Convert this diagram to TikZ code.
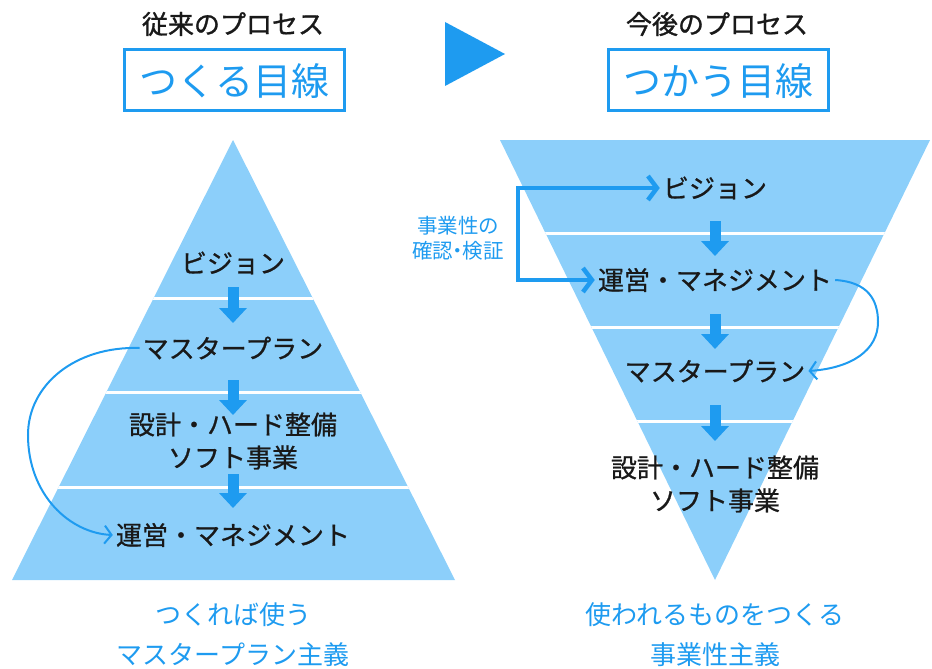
\documentclass[tikz,border=0pt]{standalone}
\usepackage{fontspec}
\setmainfont{Noto Sans CJK JP}
\usetikzlibrary{arrows.meta}
\definecolor{tri}{RGB}{140,207,250}
\definecolor{acc}{RGB}{30,155,240}
\definecolor{ink}{RGB}{25,25,25}
\begin{document}
\begin{tikzpicture}[x=1pt,y=-1pt,
  lbl/.style={font=\fontsize{26}{33}\selectfont\addfontfeatures{FakeBold=0.8}, text=ink, inner sep=3pt, align=center},
  ttl/.style={font=\fontsize{26}{28}\selectfont\addfontfeatures{FakeBold=1.2}, text=ink, inner sep=0pt},
  boxtxt/.style={font=\fontsize{38}{40}\selectfont, text=acc, inner sep=0pt},
  bottxt/.style={font=\fontsize{26}{40}\selectfont, text=acc, align=center, inner sep=0pt},
  side/.style={font=\fontsize{20.5}{25}\selectfont, text=acc, align=center, inner sep=0pt},
  blk/.style={acc, line width=11pt, -{Triangle[length=15pt,width=27pt]}},
  thin/.style={acc, line width=2pt, -{Straight Barb[length=7pt,width=18pt]}},
  elbow/.style={acc, line width=4.5pt, line join=miter, {Straight Barb[length=9pt,width=24pt]}-{Straight Barb[length=9pt,width=24pt]}},
  sep/.style={white, line width=3pt}]
\useasboundingbox (0,0) rectangle (932,669);
% pyramids
\fill[tri] (233,140) -- (455,580) -- (12,580) -- cycle;
\fill[tri] (500,140) -- (930,140) -- (715,580) -- cycle;
\begin{scope}
\clip (233,140) -- (455,580) -- (12,580) -- cycle;
\draw[sep] (0,298) -- (466,298);
\draw[sep] (0,392) -- (466,392);
\draw[sep] (0,487) -- (466,487);
\end{scope}
\begin{scope}
\clip (500,140) -- (930,140) -- (715,580) -- cycle;
\draw[sep] (480,233) -- (932,233);
\draw[sep] (480,327) -- (932,327);
\draw[sep] (480,421) -- (932,421);
\end{scope}
% titles
\node[ttl] (t1) at (233,24) {従来のプロセス};
\node[ttl] (t2) at (717,24) {今後のプロセス};
\node[draw=acc, line width=3pt, minimum width=220pt, minimum height=60pt] (b1) at (234.5,80) {};
\node[boxtxt] (b1t) at (234.5,81) {つくる目線};
\node[draw=acc, line width=3pt, minimum width=220pt, minimum height=60pt] (b2) at (718,80) {};
\node[boxtxt] (b2t) at (718,81) {つかう目線};
\fill[acc] (445,22) -- (505,54) -- (445,86) -- cycle;
% left labels
\node[lbl] (l1) at (233,263) {ビジョン};
\node[lbl] (l2) at (233,348) {マスタープラン};
\node[lbl] (l3) at (233,441) {設計・ハード整備\\ソフト事業};
\node[lbl] (l4) at (233,535) {運営・マネジメント};
% right labels
\node[lbl] (r1) at (715,188) {ビジョン};
\node[lbl] (r2) at (715,280) {運営・マネジメント};
\node[lbl] (r3) at (715,371) {マスタープラン};
\node[lbl] (r4) at (715,484) {設計・ハード整備\\ソフト事業};
% block arrows
\coordinate (la1) at (233,287); \coordinate (la2) at (233,323);
\coordinate (lb1) at (233,380); \coordinate (lb2) at (233,415);
\coordinate (lc1) at (233,474); \coordinate (lc2) at (233,508);
\coordinate (ra1) at (715,221); \coordinate (ra2) at (715,256);
\coordinate (rb1) at (715,314); \coordinate (rb2) at (715,349);
\coordinate (rc1) at (715,405); \coordinate (rc2) at (715,441);
\draw[blk] (la1) -- (la2);
\draw[blk] (lb1) -- (lb2);
\draw[blk] (lc1) -- (lc2);
\draw[blk] (ra1) -- (ra2);
\draw[blk] (rb1) -- (rb2);
\draw[blk] (rc1) -- (rc2);
% curved connectors
\draw[thin] (l2.west) .. controls (75,346) and (28,385) .. (28,435)
  .. controls (28,495) and (70,533) .. (l4.west);
\draw[thin] (r2.east) .. controls (868,282) and (878,300) .. (878,322)
  .. controls (878,350) and (852,368) .. (r3.east);
% elbow
\coordinate (xr) at (518,0);
\draw[elbow] (r1.west) -- (r1.west -| xr) -- (r2.west -| xr) -- (r2.west);
\node[side] (sd) at (458,238) {事業性の\\確認\makebox[0.45em]{・}検証};
% bottom
\node[bottxt] (bt1) at (233,635) {つくれば使う\\マスタープラン主義};
\node[bottxt] (bt2) at (715,635) {使われるものをつくる\\事業性主義};
\end{tikzpicture}
\end{document}
